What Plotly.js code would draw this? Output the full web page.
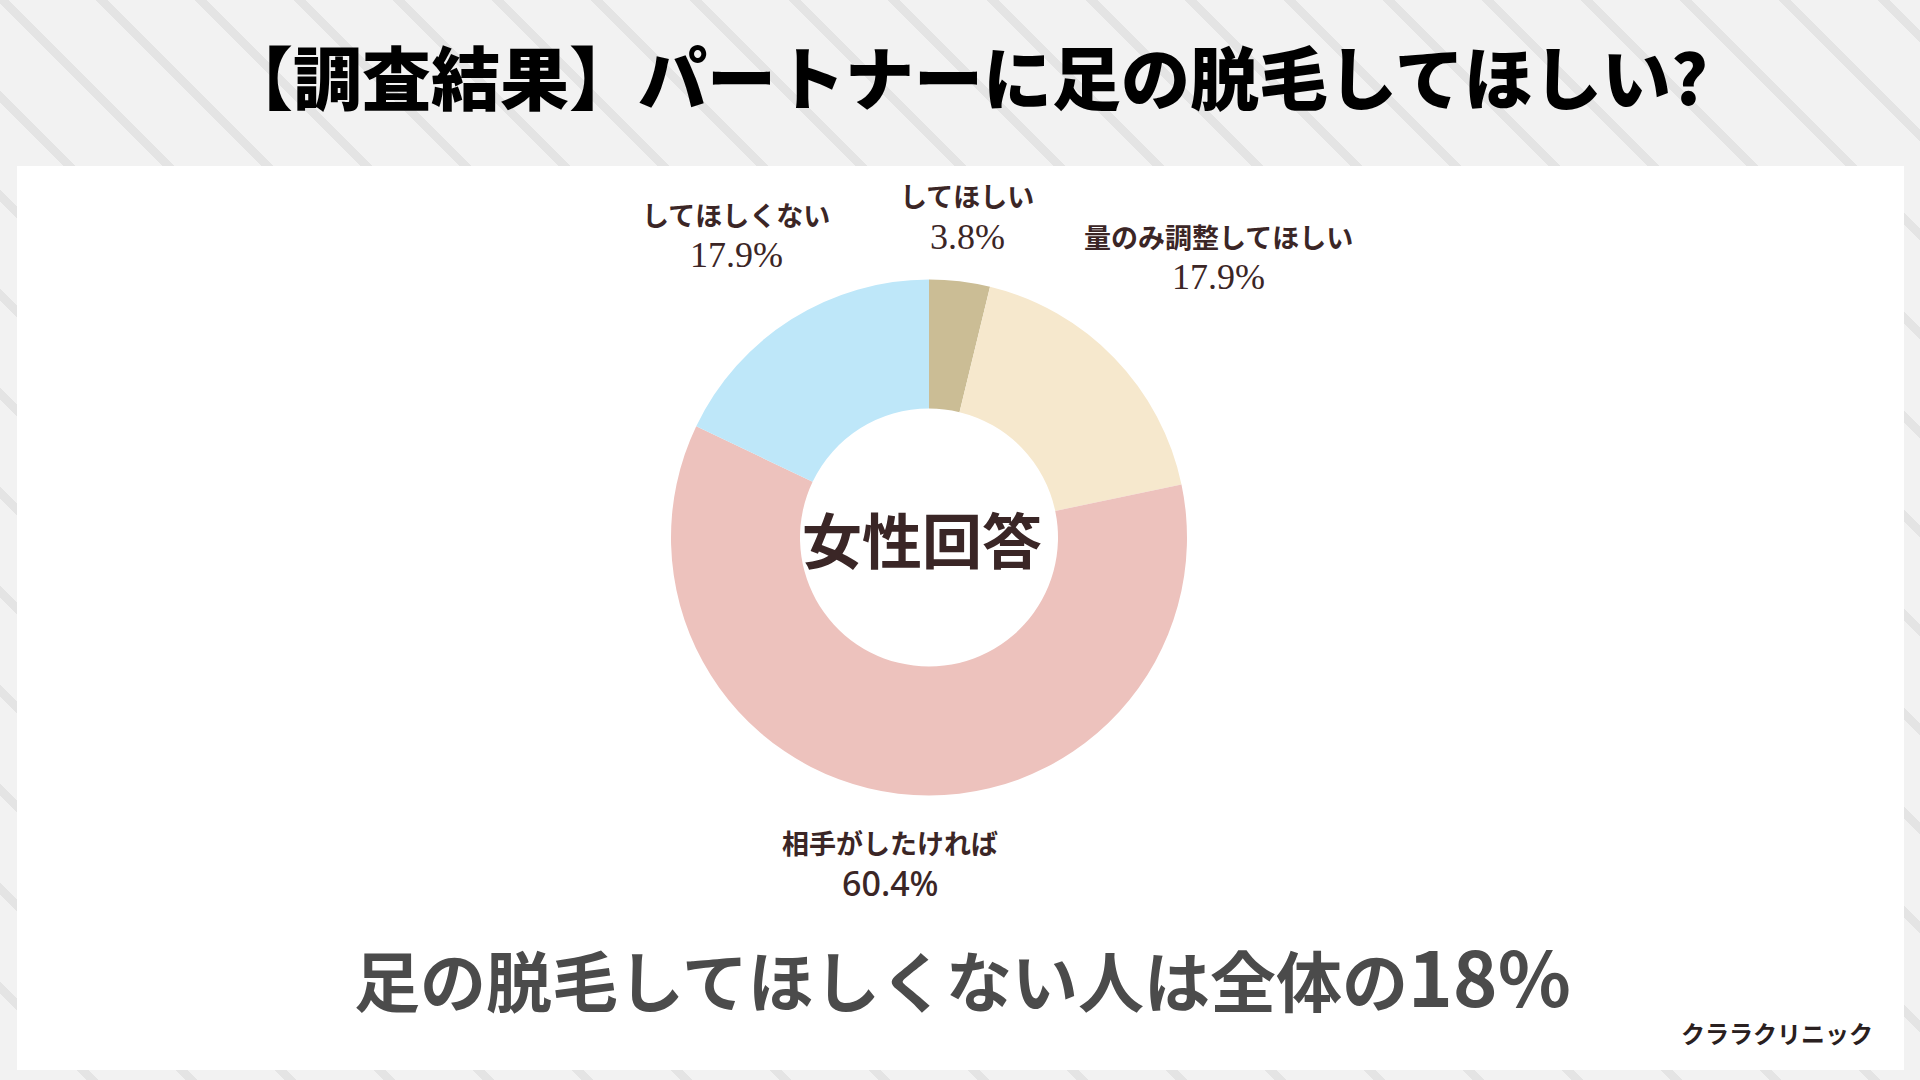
<!DOCTYPE html>
<html>
<head>
<meta charset="utf-8">
<script src="https://cdn.plot.ly/plotly-3.0.1.min.js"></script>
<style>
  html, body { margin: 0; padding: 0; }
  #chart {
    width: 1920px;
    height: 1080px;
    background-color: #f2f2f2;
    background-image: repeating-linear-gradient(45deg, #f2f2f2 0px, #f2f2f2 61px, #e4e4e4 61px, #e4e4e4 70px);
  }
</style>
</head>
<body>
<div id="chart"></div>
<script>
// survey data (female respondents)
const labels = ["してほしい", "量のみ調整してほしい", "相手がしたければ", "してほしくない"];
const values = [3.8, 17.9, 60.4, 17.9];
const colors = ["#cbbd95", "#f6e8cd", "#edc2bd", "#bee7f9"];

// label block centres (px) and number font for each slice
const labelCenter = [[967, 216], [1218, 256], [890, 862], [736, 234]];
const numSerif = [true, true, false, true];

const W = 1920, H = 1080;
const px = (x) => x / W;
const py = (y) => 1 - y / H;

const ink = "#3b2626";
const jp = "Noto Sans CJK JP, Noto Sans, sans-serif";

// donut: centre (929, 537.5), radius 258
const cx = 929, cy = 537.5, r = 258;

const data = [{
  type: "pie",
  labels: labels,
  values: values,
  sort: false,
  direction: "clockwise",
  rotation: 0,
  hole: 0.5,
  marker: { colors: colors, line: { width: 0 } },
  textinfo: "none",
  hoverinfo: "none",
  showlegend: false,
  domain: { x: [px(cx - r), px(cx + r)], y: [py(cy + r), py(cy - r)] },
}];

const annotations = [];
labels.forEach((name, i) => {
  const [x, y] = labelCenter[i];
  annotations.push({
    text: name,
    x: px(x), y: py(y - 20), xref: "paper", yref: "paper",
    xanchor: "center", yanchor: "middle", showarrow: false,
    font: { family: jp, size: 27, color: ink, weight: 700 },
  });
  annotations.push({
    text: values[i].toFixed(1) + "%",
    x: px(x), y: py(y + 21), xref: "paper", yref: "paper",
    xanchor: "center", yanchor: "middle", showarrow: false,
    font: numSerif[i]
      ? { family: "Liberation Serif, DejaVu Serif, serif", size: 36, color: ink }
      : { family: "Noto Sans, " + jp, size: 34, color: ink, weight: 500 },
  });
});

// centre text
annotations.push({
  text: "女性回答",
  x: px(922), y: py(537), xref: "paper", yref: "paper",
  xanchor: "center", yanchor: "middle", showarrow: false,
  font: { family: jp, size: 60, color: "#3a2626", weight: 700 },
});

// headline and summary
annotations.push({
  text: "【調査結果】パートナーに足の脱毛してほしい?",
  x: px(966), y: py(75), xref: "paper", yref: "paper",
  xanchor: "center", yanchor: "middle", showarrow: false,
  font: { family: jp, size: 69, color: "#000000", weight: 900 },
});
annotations.push({
  text: "足の脱毛してほしくない人は全体の<span style=\"font-size:76px\">18%</span>",
  x: px(962), y: py(974), xref: "paper", yref: "paper",
  xanchor: "center", yanchor: "middle", showarrow: false,
  font: { family: jp, size: 66, color: "#4b4b4b", weight: 700 },
});
annotations.push({
  text: "クララクリニック",
  x: px(1875), y: py(1032), xref: "paper", yref: "paper",
  xanchor: "right", yanchor: "middle", showarrow: false,
  font: { family: jp, size: 24, color: "#2a2020", weight: 700 },
});

const layout = {
  width: W,
  height: H,
  margin: { t: 0, b: 0, l: 0, r: 0 },
  paper_bgcolor: "rgba(0,0,0,0)",
  plot_bgcolor: "rgba(0,0,0,0)",
  showlegend: false,
  shapes: [{
    type: "rect", xref: "paper", yref: "paper", layer: "below",
    x0: px(17), x1: px(1904), y0: py(1070), y1: py(166),
    fillcolor: "#ffffff", line: { width: 0 },
  }],
  annotations: annotations,
};

Plotly.newPlot("chart", data, layout, { displayModeBar: false, staticPlot: true });
</script>
</body>
</html>
